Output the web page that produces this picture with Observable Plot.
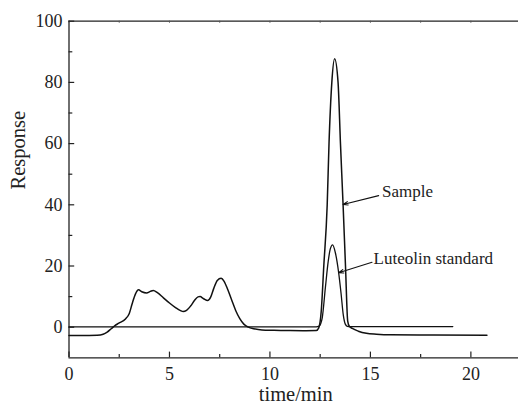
<!DOCTYPE html>
<html>
<head>
<meta charset="utf-8">
<script src="https://cdn.jsdelivr.net/npm/d3@7"></script>
<script src="https://cdn.jsdelivr.net/npm/@observablehq/plot@0.6"></script>
<style>
  html, body { margin: 0; padding: 0; background: #fff; }
  #chart svg { display: block; }
  #chart svg text { font-family: 'Liberation Serif', 'Times New Roman', serif !important; font-variant: normal !important; }
</style>
</head>
<body>
<div id="chart"></div>
<script>
// Sample chromatogram (time/min, response)
const sampleTime = [0, 0.5, 1.0, 1.4, 1.7, 1.9, 2.1, 2.3, 2.48, 2.81, 3.0, 3.14, 3.31, 3.46, 3.62, 3.86, 4.05, 4.19, 4.4, 4.7, 5.0, 5.3, 5.55, 5.68, 5.85, 6.05, 6.25, 6.42, 6.52, 6.7, 6.9, 7.05, 7.2, 7.38, 7.57, 7.72, 7.9, 8.1, 8.3, 8.5, 8.7, 8.93, 9.2, 9.6, 10.2, 11.0, 11.8, 12.3, 12.43, 12.55, 12.68, 12.85, 12.94, 13.08, 13.22, 13.39, 13.51, 13.64, 13.76, 13.87, 13.95, 14.1, 14.4, 14.8, 15.3, 16.0, 18.0, 20.8];
const sampleResp = [-2.7, -2.7, -2.7, -2.65, -2.3, -1.6, -0.5, 0.6, 1.3, 2.7, 4.5, 7.6, 10.9, 12.2, 11.6, 11.2, 11.7, 12.0, 11.3, 9.6, 7.9, 6.4, 5.4, 5.1, 5.5, 6.9, 8.8, 9.9, 10.0, 9.3, 8.7, 9.8, 12.6, 15.3, 16.0, 15.0, 12.3, 8.8, 5.4, 2.8, 1.0, 0.0, -0.5, -0.9, -1.0, -1.1, -1.15, -1.1, -0.2, 5, 20, 40, 60, 80, 87.7, 80, 60, 40, 20, 2, 0.3, -0.4, -1.3, -2.0, -2.3, -2.5, -2.55, -2.6];

// Luteolin standard chromatogram
const stdTime = [0, 5, 10, 12.3, 12.45, 12.6, 12.76, 12.9, 13.0, 13.12, 13.25, 13.42, 13.54, 13.65, 13.75, 13.85, 14.0, 19.1];
const stdResp = [0.1, 0.1, 0.1, 0.1, 0.4, 3, 13, 21.5, 25.5, 26.9, 24.5, 17.8, 11, 4, 1, 0.3, 0.2, 0.2];

// Axis ticks
const xMajor = [0, 5, 10, 15, 20];
const xMinor = [2.5, 7.5, 12.5, 17.5];
const yMajor = [0, 20, 40, 60, 80, 100];
const yMinor = [10, 30, 50, 70, 90];

// Annotations
const annText = ["Sample", "Luteolin standard"];
const annTextX = [15.58, 15.16];
const annTextY = [44.3, 22.4];
const annFromX = [15.41, 15.08];
const annFromY = [43.0, 21.2];
const annToX = [13.64, 13.42];
const annToY = [40.1, 17.8];

const sample = sampleTime.map((t, i) => ({t, r: sampleResp[i]}));
const standard = stdTime.map((t, i) => ({t, r: stdResp[i]}));
const ann = annText.map((s, i) => ({
  s, tx: annTextX[i], ty: annTextY[i],
  x1: annFromX[i], y1: annFromY[i], x2: annToX[i], y2: annToY[i]
}));

const font = "'Liberation Serif', 'Times New Roman', serif";

const chart = Plot.plot({
  width: 518,
  height: 410,
  marginLeft: 68.5,
  marginRight: 0,
  marginTop: 20.7,
  marginBottom: 52.7,
  style: {fontFamily: font, background: "#fff", color: "#222"},
  x: {domain: [0, 22.37], ticks: xMajor},
  y: {domain: [-10, 100], ticks: yMajor},
  marks: [
    // frame lines
    Plot.ruleX([0], {stroke: "#222", strokeWidth: 1.3}),
    Plot.ruleY([-10], {stroke: "#222", strokeWidth: 1.3}),
    Plot.ruleY([100], {stroke: "#222", strokeWidth: 1.3}),
    // inward ticks, bottom
    Plot.ruleX(xMajor, {x: d => d, y1: -10, y2: -10, insetTop: -5.7, stroke: "#222", strokeWidth: 1.2}),
    Plot.ruleX(xMinor, {x: d => d, y1: -10, y2: -10, insetTop: -3.2, stroke: "#222", strokeWidth: 1.2}),
    // top small ticks
    Plot.ruleX(xMajor.concat(xMinor), {x: d => d, y1: 100, y2: 100, insetBottom: -2, stroke: "#555", strokeWidth: 1}),
    // inward ticks, left
    Plot.ruleY(yMajor, {y: d => d, x1: 0, x2: 0, insetRight: -5.7, stroke: "#222", strokeWidth: 1.2}),
    Plot.ruleY(yMinor, {y: d => d, x1: 0, x2: 0, insetRight: -3.8, stroke: "#222", strokeWidth: 1.2}),
    // tick labels
    Plot.axisX(xMajor, {tickSize: 0, tickPadding: 9, fontSize: 18, fontFamily: font, fontVariant: "normal", label: null}),
    Plot.axisY(yMajor, {tickSize: 0, tickPadding: 6.5, fontSize: 18, fontFamily: font, fontVariant: "normal", label: null}),
    // axis titles
    Plot.text(["time/min"], {frameAnchor: "bottom", dy: 43, dx: 2, text: d => d, fontSize: 20.5, fontFamily: font, fill: "#222"}),
    Plot.text(["Response"], {frameAnchor: "left", dx: -50.5, rotate: -90, text: d => d, fontSize: 20.5, fontFamily: font, fill: "#222"}),
    // curves
    Plot.line(standard, {x: "t", y: "r", stroke: "#111", strokeWidth: 1.3, curve: "monotone-x"}),
    Plot.line(sample, {x: "t", y: "r", stroke: "#111", strokeWidth: 1.5, curve: "monotone-x"}),
    // annotations
    Plot.arrow(ann, {x1: "x1", y1: "y1", x2: "x2", y2: "y2", stroke: "#111", strokeWidth: 1.1, headLength: 7, headAngle: 40}),
    Plot.text(ann, {x: "tx", y: "ty", text: "s", textAnchor: "start", fontSize: 17, fontFamily: font, fill: "#222"})
  ]
});

document.getElementById("chart").appendChild(chart);
</script>
</body>
</html>
